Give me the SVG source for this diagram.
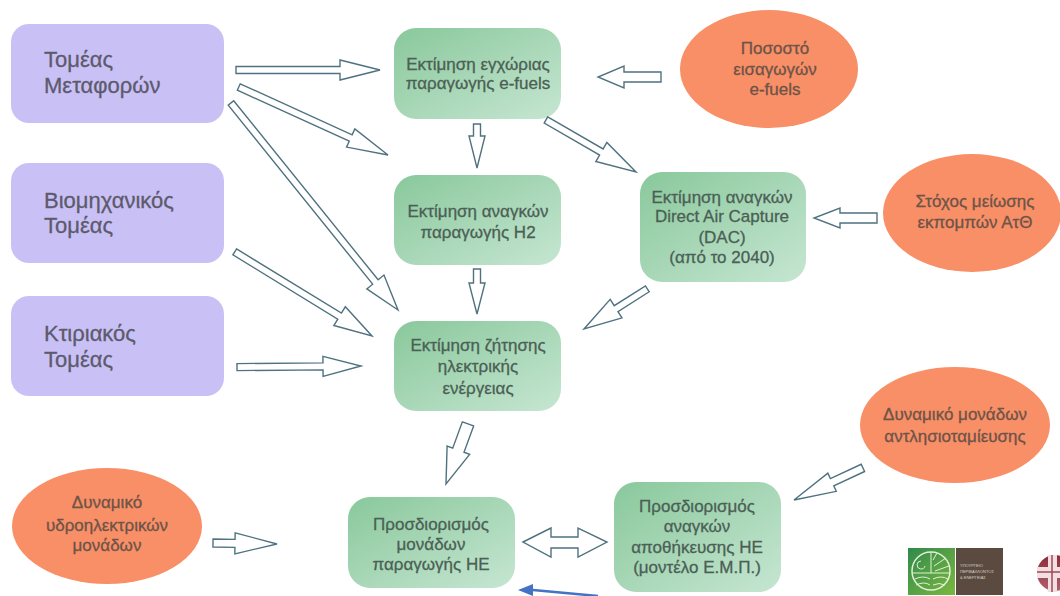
<svg xmlns="http://www.w3.org/2000/svg" width="1060" height="596" viewBox="0 0 1060 596">
<style>
text{font-family:"Liberation Sans",Arial,sans-serif;text-anchor:middle;stroke-width:.3}
.g text{font-size:17px;fill:#4b5f55;stroke:#4b5f55}
.p text{font-size:22px;text-anchor:start;fill:#5d5a6c;stroke:#5d5a6c}
.o text{font-size:17px;fill:#6d5348;stroke:#6d5348}
.s{fill:url(#gr)}
.pu{fill:#c9c1f6}
.or{fill:#f98f66}
.a{fill:#fff;stroke:#4f7280;stroke-width:1.4;stroke-linejoin:miter}
.lt{font-size:4px;text-anchor:start;fill:#d8d2c8;stroke:none}
</style>
<defs>
<linearGradient id="gr" x1="0" y1="0" x2="1" y2="1"><stop offset="0" stop-color="#89c89b"/><stop offset="1" stop-color="#c6e6d2"/></linearGradient>
<linearGradient id="lg" x1="0" y1="0" x2="1" y2="1"><stop offset="0" stop-color="#2f8a4c"/><stop offset="1" stop-color="#7cb83f"/></linearGradient>
<linearGradient id="rd" x1="0" y1="0" x2="0" y2="1"><stop offset="0" stop-color="#8f2a3c"/><stop offset="1" stop-color="#b0606c"/></linearGradient>
</defs>
<rect width="1060" height="596" fill="#fff"/>
<g id="n-transport" class="p"><rect class="pu" x="11" y="24" width="213" height="99" rx="18"/><text x="44" y="67">Τομέας</text><text x="44" y="93">Μεταφορών</text></g>
<g id="n-industry" class="p"><rect class="pu" x="11" y="163" width="213" height="100" rx="18"/><text x="44" y="208">Βιομηχανικός</text><text x="44" y="233">Τομέας</text></g>
<g id="n-building" class="p"><rect class="pu" x="11" y="296" width="213" height="100" rx="18"/><text x="44" y="341">Κτιριακός</text><text x="44" y="367">Τομέας</text></g>
<g id="n-efuels" class="g"><rect class="s" x="394" y="28" width="167" height="91" rx="22"/><text x="478" y="70">Εκτίμηση εγχώριας</text><text x="478" y="89">παραγωγής e-fuels</text></g>
<g id="n-h2" class="g"><rect class="s" x="394" y="175" width="167" height="90" rx="22"/><text x="478" y="217">Εκτίμηση αναγκών</text><text x="478" y="238">παραγωγής Η2</text></g>
<g id="n-elec" class="g"><rect class="s" x="394" y="321" width="167" height="90" rx="22"/><text x="478" y="351">Εκτίμηση ζήτησης</text><text x="478" y="372">ηλεκτρικής</text><text x="478" y="394">ενέργειας</text></g>
<g id="n-dac" class="g"><rect class="s" x="640" y="172" width="166" height="110" rx="22"/><text x="722" y="203">Εκτίμηση αναγκών</text><text x="722" y="222">Direct Air Capture</text><text x="722" y="243">(DAC)</text><text x="722" y="263">(από το 2040)</text></g>
<g id="n-units" class="g"><rect class="s" x="348" y="497" width="167" height="91" rx="22"/><text x="431" y="530">Προσδιορισμός</text><text x="431" y="550">μονάδων</text><text x="431" y="570">παραγωγής ΗΕ</text></g>
<g id="n-storage" class="g"><rect class="s" x="614" y="482" width="167" height="110" rx="22"/><text x="697" y="512">Προσδιορισμός</text><text x="697" y="532">αναγκών</text><text x="697" y="553">αποθήκευσης ΗΕ</text><text x="697" y="573">(μοντέλο Ε.Μ.Π.)</text></g>
<g id="n-import" class="o"><ellipse class="or" cx="769" cy="69" rx="89" ry="59"/><text x="775" y="54">Ποσοστό</text><text x="775" y="75">εισαγωγών</text><text x="775" y="95">e-fuels</text></g>
<g id="n-target" class="o"><ellipse class="or" cx="972" cy="213" rx="89" ry="59"/><text x="975" y="207">Στόχος μείωσης</text><text x="975" y="228">εκπομπών ΑτΘ</text></g>
<g id="n-pump" class="o"><ellipse class="or" cx="955" cy="425" rx="95" ry="58"/><text x="955" y="420">Δυναμικό μονάδων</text><text x="955" y="442">αντλησιοταμίευσης</text></g>
<g id="n-hydro" class="o"><ellipse class="or" cx="107" cy="526" rx="95" ry="58"/><text x="107" y="508">Δυναμικό</text><text x="107" y="531">υδροηλεκτρικών</text><text x="107" y="551">μονάδων</text></g>
<g id="connectors">
<polygon class="a" transform="translate(380 70)" points="-144,-3.5 -40,-3.5 -40,-10 0,0 -40,10 -40,3.5 -144,3.5"/>
<polygon class="a" transform="translate(388 155) rotate(24.5)" points="-164,-3.5 -41,-3.5 -41,-10 0,0 -41,10 -41,3.5 -164,3.5"/>
<polygon class="a" transform="translate(398 310) rotate(51.1)" points="-266,-3.5 -36,-3.5 -36,-11 0,0 -36,11 -36,3.5 -266,3.5"/>
<polygon class="a" transform="translate(372 336) rotate(31.5)" points="-161,-3.5 -38,-3.5 -38,-11 0,0 -38,11 -38,3.5 -161,3.5"/>
<polygon class="a" transform="translate(361 366) rotate(-0.5)" points="-124,-3.5 -38,-3.5 -38,-10 0,0 -38,10 -38,3.5 -124,3.5"/>
<polygon class="a" transform="translate(598 77) rotate(180)" points="-63,-5 -26,-5 -26,-11 0,0 -26,11 -26,5 -63,5"/>
<polygon class="a" transform="translate(477 168) rotate(90)" points="-44,-3.5 -32,-3.5 -32,-8 0,0 -32,8 -32,3.5 -44,3.5"/>
<polygon class="a" transform="translate(636 172) rotate(30)" points="-104,-3.5 -40,-3.5 -40,-11 0,0 -40,11 -40,3.5 -104,3.5"/>
<polygon class="a" transform="translate(477 314) rotate(90)" points="-45,-3.5 -31,-3.5 -31,-8 0,0 -31,8 -31,3.5 -45,3.5"/>
<polygon class="a" transform="translate(584 329) rotate(147.6)" points="-75,-3.5 -38,-3.5 -38,-11 0,0 -38,11 -38,3.5 -75,3.5"/>
<polygon class="a" transform="translate(814 218) rotate(180)" points="-63,-5 -26,-5 -26,-10 0,0 -26,10 -26,5 -63,5"/>
<polygon class="a" transform="translate(446 484) rotate(110.1)" points="-64,-6 -36,-6 -36,-12 0,0 -36,12 -36,6 -64,6"/>
<polygon class="a" transform="translate(794 500) rotate(155)" points="-76,-4 -42,-4 -42,-10 0,0 -42,10 -42,4 -76,4"/>
<polygon class="a" transform="translate(277 544) rotate(0.9)" points="-64,-4 -42,-4 -42,-10.5 0,0 -42,10.5 -42,4 -64,4"/>
<polygon class="a" points="523,542 551,528 551,537 578,537 578,528 607,542 578,557 578,548 551,548 551,557"/>
<path d="M598 596 L533 590" fill="none" stroke="#4472c4" stroke-width="2.5"/>
<polygon points="518,590 533,584 533,596" fill="#4472c4"/>
</g>
<rect x="908" y="548" width="47" height="47" fill="url(#lg)"/>
<rect x="956" y="548" width="47" height="47" fill="#5b4a40"/>
<circle cx="931" cy="571" r="19" fill="none" stroke="#e4efd8" stroke-width="1.5"/>
<path d="M913 573H950M931 552V573M915 579q8-4 15 0M916 585q8-4 14 0M933 579q8-4 15 0M933 585q6-3 12 0M934 566l12-8M935 571l14-5M933 560l4-7M925 566a4 4 0 1 1-4-5" fill="none" stroke="#e4efd8" stroke-width="1"/>
<text class="lt" x="960" y="567">ΥΠΟΥΡΓΕΙΟ</text><text class="lt" x="960" y="573">ΠΕΡΙΒΑΛΛΟΝΤΟΣ</text><text class="lt" x="960" y="579">&amp; ΕΝΕΡΓΕΙΑΣ</text>
<circle cx="1055" cy="573" r="18" fill="url(#rd)"/>
<path d="M1037 567H1060V578H1037ZM1048 555H1057V592H1048Z" fill="#f1dfe2"/>
<path d="M1037 572H1060M1052 555V592" stroke="#a04a58" stroke-width="1.5"/>
</svg>
